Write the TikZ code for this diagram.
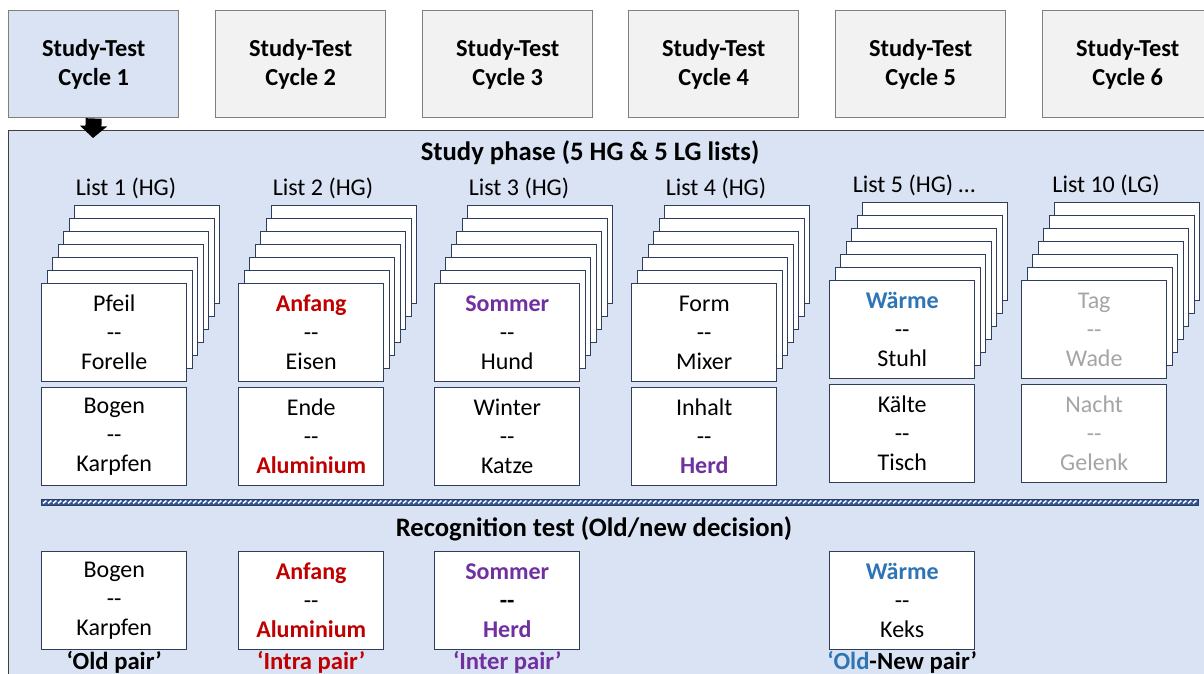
\documentclass[tikz,border=0pt]{standalone}
\usepackage{fontspec}
\setmainfont{Carlito}
\usetikzlibrary{arrows.meta}
\definecolor{cyclebd}{HTML}{7F7F7F}
\definecolor{cyconefill}{HTML}{DAE3F3}
\definecolor{cycfill}{HTML}{F2F2F2}
\definecolor{panelfill}{HTML}{DAE3F3}
\definecolor{panelbd}{HTML}{404040}
\definecolor{cardbd}{HTML}{2E3D5C}
\definecolor{barblue}{HTML}{2F5597}
\definecolor{ired}{HTML}{C00000}
\definecolor{ipur}{HTML}{7030A0}
\definecolor{iblu}{HTML}{2E75B6}
\definecolor{igry}{HTML}{A5A5A5}
\newcommand\fs{\fontsize{18}{21.75}\selectfont}
\newcommand\fc{\fontsize{18.3}{21.5}\selectfont}
\newcommand\fh{\fontsize{20}{24}\selectfont}
\newcommand\fl{\fontsize{18.5}{22}\selectfont}
\newcommand\dd{-\kern0pt-}
\newcommand\wred[1]{\textcolor{ired}{\textbf{#1}}}
\newcommand\wpur[1]{\textcolor{ipur}{\textbf{#1}}}
\newcommand\wblu[1]{\textcolor{iblu}{\textbf{#1}}}
\newcommand\wgry[1]{\textcolor{igry}{#1}}
\tikzset{
  cyc/.style={draw=cyclebd, line width=1.1pt, minimum width=127.5pt, minimum height=80.25pt,
    align=center, font=\bfseries\fc, inner sep=0pt},
  card/.style={draw=cardbd, fill=white, line width=1.1pt, minimum width=108.75pt,
    minimum height=73.5pt, align=center, font=\fs, inner sep=0pt},
  ltitle/.style={font=\fs, inner sep=0pt},
  heading/.style={font=\bfseries\fh, inner sep=0pt},
  plabel/.style={font=\bfseries\fl, inner sep=0pt},
}
\newcommand\liststack[6]{%
  \node[ltitle] (#1t) at ({#2+85},{#3-95}) {#4};
  \foreach \i in {6,5,...,1}{\node[card,anchor=north west] (#1b\i) at ({#2+5.5*\i},{#3-13*\i}) {};}
  \node[card,anchor=north west] (#1f) at (#2,#3) {#5};
  \node[card,anchor=north west] (#1l) at (#2,{#3+104}) {#6};
}
\begin{document}
\begin{tikzpicture}[x=0.75pt,y=-0.75pt]
\useasboundingbox (0,0) rectangle (1204,674);
\clip (0,0) rectangle (1204,674);
% cycle boxes
\node[cyc, fill=cyconefill, anchor=north west] (c1) at (8,10) {Study-Test\\Cycle 1};
\node[cyc, fill=cycfill, anchor=north west] (c2) at (215,10) {Study-Test\\Cycle 2};
\node[cyc, fill=cycfill, anchor=north west] (c3) at (422,10) {Study-Test\\Cycle 3};
\node[cyc, fill=cycfill, anchor=north west] (c4) at (628,10) {Study-Test\\Cycle 4};
\node[cyc, fill=cycfill, anchor=north west] (c5) at (835,10) {Study-Test\\Cycle 5};
\node[cyc, fill=cycfill, anchor=north west] (c6) at (1042,10) {Study-Test\\Cycle 6};
% panel
\node[draw=panelbd, fill=panelfill, line width=1.1pt, minimum width=909pt, minimum height=420pt,
  anchor=north west, inner sep=0pt] (panel) at (8,130) {};
\coordinate (arrowend) at (93,138);
\draw[line width=12pt, -{Triangle[width=20pt,length=9pt]}] (c1.south) -- (arrowend);
% headings
\node[heading] (hstudy) at (590,153) {Study phase (5 HG \& 5 LG lists)};
\node[heading] (hrec) at (594,529) {Recognition test (Old/new decision)};
% stacks
\liststack{a}{41}{283}{List 1 (HG)}{Pfeil\\\dd\\Forelle}{Bogen\\\dd\\Karpfen}
\liststack{b}{238}{283}{List 2 (HG)}{\wred{Anfang}\\\dd\\Eisen}{Ende\\\dd\\\wred{Aluminium}}
\liststack{c}{434}{283}{List 3 (HG)}{\wpur{Sommer}\\\dd\\Hund}{Winter\\\dd\\Katze}
\liststack{d}{631}{283}{List 4 (HG)}{Form\\\dd\\Mixer}{Inhalt\\\dd\\\wpur{Herd}}
\liststack{e}{829}{280}{List 5 (HG) \dots}{\wblu{Wärme}\\\dd\\Stuhl}{Kälte\\\dd\\Tisch}
\liststack{f}{1021}{280}{List 10 (LG)}{\wgry{Tag}\\\wgry{\dd}\\\wgry{Wade}}{\wgry{Nacht}\\\wgry{\dd}\\\wgry{Gelenk}}
% hatched bar
\fill[barblue] (41,499) rectangle (1198,505);
\foreach \x in {43,48,...,1193}{\draw[white, line width=1.1pt] (\x,503.4) -- (\x+3.4,500.6);}
\draw[cardbd, line width=0.6pt] (41,499) rectangle (1198,505);
% recognition cards
\node[card,anchor=north west] (r1) at (41,551) {Bogen\\\dd\\Karpfen};
\node[card,anchor=north west] (r2) at (238,551) {\wred{Anfang}\\\dd\\\wred{Aluminium}};
\node[card,anchor=north west] (r3) at (434,551) {\wpur{Sommer}\\\textbf{\dd}\\\wpur{Herd}};
\node[card,anchor=north west] (r4) at (829,551) {\wblu{Wärme}\\\dd\\Keks};
\node[plabel] (l1) at (r1.south |- 0,662) {‘Old pair’};
\node[plabel, text=ired] (l2) at (r2.south |- 0,662) {‘Intra pair’};
\node[plabel, text=ipur] (l3) at (r3.south |- 0,662) {‘Inter pair’};
\node[plabel] (l4) at (r4.south |- 0,662) {\textcolor{iblu}{‘Old}-New pair’};
\end{tikzpicture}
\end{document}
